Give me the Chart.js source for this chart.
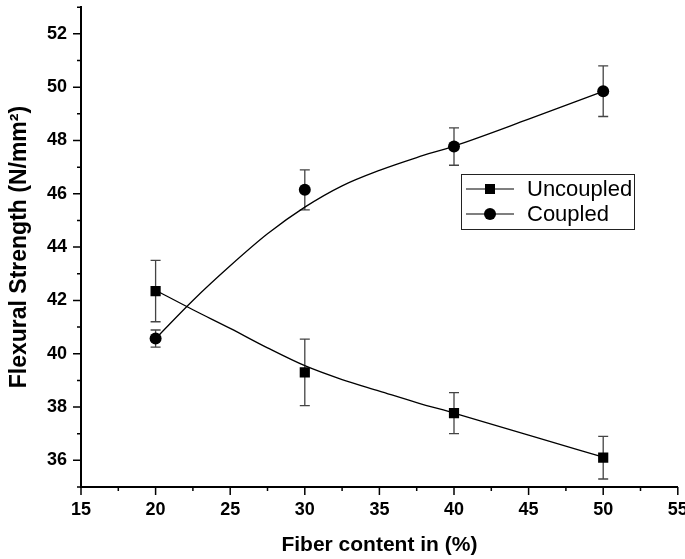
<!DOCTYPE html>
<html><head><meta charset="utf-8">
<script src="https://cdn.jsdelivr.net/npm/chart.js@4/dist/chart.umd.min.js"></script>
<style>html,body{margin:0;padding:0;background:#fff}</style>
</head><body>
<canvas id="c" width="685" height="559"></canvas>
<script>
// ---- data ----
const fiberContent = [20, 30, 40, 50];
const uncoupledMean = [42.35, 39.3, 37.77, 36.1];
const uncoupledErr = [1.15, 1.25, 0.77, 0.8];
const coupledMean = [40.57, 46.15, 47.77, 49.85];
const coupledErr = [0.32, 0.75, 0.7, 0.95];
// smoothed fit curves
const curveX = [20, 22.5, 25, 27.5, 30, 32.5, 35, 37.5, 40, 45, 50];
const uncoupledCurve = [42.38, 41.65, 40.95, 40.22, 39.55, 39.03, 38.6, 38.17, 37.77, 36.95, 36.12];
const coupledCurve = [40.57, 42.0, 43.3, 44.5, 45.5, 46.3, 46.88, 47.36, 47.79, 48.8, 49.84];
const xTickLabels = [15, 20, 25, 30, 35, 40, 45, 50, 55];
const yTickLabels = [36, 38, 40, 42, 44, 46, 48, 50, 52];
const seriesNames = ['Uncoupled', 'Coupled'];
const xTitle = 'Fiber content in (%)';
const yTitle = 'Flexural Strength (N/mm\u00B2)';

const FONT = '"Liberation Sans", Arial, Helvetica, sans-serif';

const pts = (xs, ys) => xs.map((x, i) => ({x: x, y: ys[i]}));

const errorBars = {
  id: 'errorBars',
  beforeDatasetsDraw(chart) {
    const {ctx, scales: {x, y}} = chart;
    ctx.save();
    ctx.strokeStyle = '#444';
    ctx.lineWidth = 1.3;
    const sets = [[uncoupledMean, uncoupledErr], [coupledMean, coupledErr]];
    sets.forEach(([m, e]) => {
      fiberContent.forEach((fx, i) => {
        const px = x.getPixelForValue(fx);
        const top = y.getPixelForValue(m[i] + e[i]);
        const bot = y.getPixelForValue(m[i] - e[i]);
        ctx.beginPath();
        ctx.moveTo(px, top); ctx.lineTo(px, bot);
        ctx.moveTo(px - 5, top); ctx.lineTo(px + 5, top);
        ctx.moveTo(px - 5, bot); ctx.lineTo(px + 5, bot);
        ctx.stroke();
      });
    });
    ctx.restore();
  }
};

const tickMarks = {
  id: 'tickMarks',
  afterDraw(chart) {
    const {ctx, scales: {x, y}} = chart;
    ctx.save();
    ctx.strokeStyle = '#000';
    ctx.lineWidth = 1.5;
    ctx.beginPath();
    x.ticks.forEach(t => {
      const px = x.getPixelForValue(t.value);
      const major = xTickLabels.includes(t.value);
      ctx.moveTo(px, x.top); ctx.lineTo(px, x.top + (major ? 8 : 4));
    });
    y.ticks.forEach(t => {
      const py = y.getPixelForValue(t.value);
      const major = (t.value % 2 === 0);
      ctx.moveTo(y.right, py); ctx.lineTo(y.right - (major ? 8 : 4), py);
    });
    ctx.stroke();
    ctx.restore();
  }
};

const boxLegend = {
  id: 'boxLegend',
  afterDraw(chart) {
    const {ctx} = chart;
    const bx = 461, by = 174, bw = 173, bh = 55;
    ctx.save();
    ctx.strokeStyle = '#222';
    ctx.lineWidth = 1;
    ctx.strokeRect(bx + 0.5, by + 0.5, bw, bh);
    const rows = [189, 214];
    ctx.font = '22px ' + FONT;
    ctx.textBaseline = 'middle';
    ctx.fillStyle = '#000';
    rows.forEach((ry, i) => {
      ctx.beginPath();
      ctx.strokeStyle = '#000';
      ctx.lineWidth = 1.2;
      ctx.moveTo(466, ry); ctx.lineTo(514, ry);
      ctx.stroke();
      if (i === 0) {
        ctx.fillRect(490 - 5, ry - 5, 10, 10);
      } else {
        ctx.beginPath(); ctx.arc(490, ry, 6, 0, Math.PI * 2); ctx.fill();
      }
      ctx.fillText(seriesNames[i], 527, ry + 1);
    });
    ctx.restore();
  }
};

new Chart(document.getElementById('c'), {
  type: 'scatter',
  data: {
    datasets: [
      {label: seriesNames[0] + ' fit', data: pts(curveX, uncoupledCurve), showLine: true,
       borderColor: '#000', borderWidth: 1.3, pointRadius: 0, cubicInterpolationMode: 'monotone', order: 2},
      {label: seriesNames[1] + ' fit', data: pts(curveX, coupledCurve), showLine: true,
       borderColor: '#000', borderWidth: 1.3, pointRadius: 0, cubicInterpolationMode: 'monotone', order: 2},
      {label: seriesNames[0], data: pts(fiberContent, uncoupledMean), showLine: false,
       pointStyle: 'rect', pointRadius: 7.2, backgroundColor: '#000', borderColor: '#000', borderWidth: 0, order: 1},
      {label: seriesNames[1], data: pts(fiberContent, coupledMean), showLine: false,
       pointStyle: 'circle', pointRadius: 6, backgroundColor: '#000', borderColor: '#000', borderWidth: 0, order: 1}
    ]
  },
  options: {
    responsive: false,
    animation: false,
    devicePixelRatio: 1,
    layout: {padding: {left: 0, right: 7, top: 3, bottom: 0}},
    plugins: {legend: {display: false}, tooltip: {enabled: false}},
    scales: {
      x: {
        type: 'linear', min: 15, max: 55,
        grid: {display: false, drawTicks: false},
        border: {display: true, color: '#000', width: 2},
        ticks: {stepSize: 2.5, autoSkip: false, maxRotation: 0, padding: 12, color: '#000',
                font: {family: FONT, size: 18, weight: 'bold'},
                callback: v => xTickLabels.includes(v) ? String(v) : ''},
        title: {display: true, text: xTitle, color: '#000', padding: {top: 0, bottom: 1},
                font: {family: FONT, size: 21, weight: 'bold'}},
        afterFit: s => { s.height = 72; s.paddingLeft = 0; s.paddingRight = 0; }
      },
      y: {
        type: 'linear', min: 35, max: 53,
        grid: {display: false, drawTicks: false},
        border: {display: true, color: '#000', width: 2},
        ticks: {stepSize: 1, autoSkip: false, padding: 14, color: '#000',
                font: {family: FONT, size: 18, weight: 'bold'},
                callback: v => yTickLabels.includes(v) ? String(v) : ''},
        title: {display: true, text: yTitle, color: '#000', padding: {top: 6, bottom: 0},
                font: {family: FONT, size: 23, weight: 'bold'}},
        afterFit: s => { s.width = 81; s.paddingTop = 0; s.paddingBottom = 0; }
      }
    }
  },
  plugins: [errorBars, tickMarks, boxLegend]
});
</script>
</body></html>
